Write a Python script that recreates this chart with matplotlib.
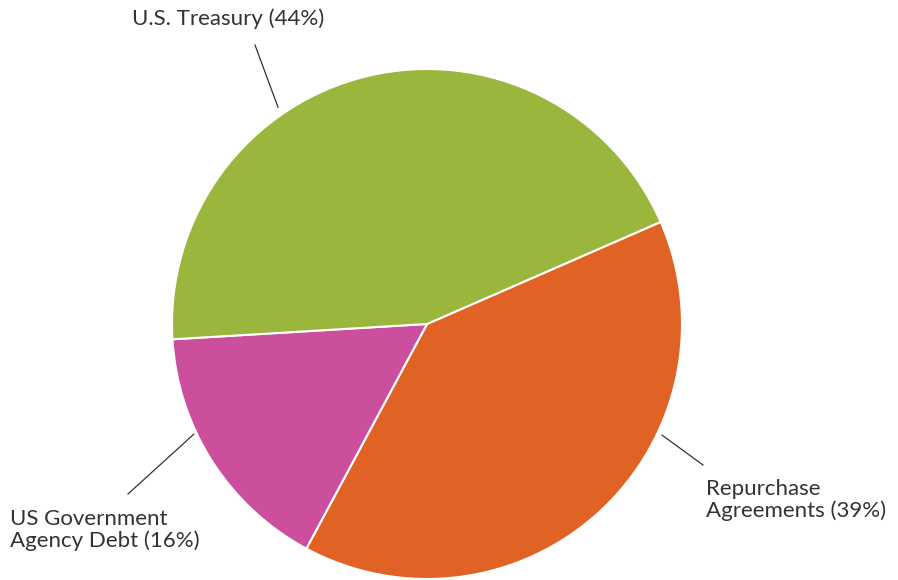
import numpy as np
import matplotlib
matplotlib.use("Agg")
from matplotlib import pyplot as plt

# slice data, clockwise from the green/orange boundary
labels = ["Repurchase\nAgreements (39%)", "US Government\nAgency Debt (16%)", "U.S. Treasury (44%)"]
shares = [39.4, 16.2, 44.4]
colors = ["#E06325", "#CB4F9D", "#9BB63C"]

W, H = 898, 580
CX, CY, R = 427, 256, 255

fig = plt.figure(figsize=(W / 100, H / 100), dpi=100)
ax = fig.add_axes([0, 0, 1, 1])

ax.pie(shares, colors=colors, startangle=23.6, counterclock=False,
       center=(CX, CY), radius=R, frame=True,
       wedgeprops=dict(edgecolor="white", linewidth=1.5))
ax.set_xlim(0, W)
ax.set_ylim(0, H)
ax.set_aspect("equal")
ax.axis("off")

# leader lines: (angle on rim, start radius, text-side end point in px)
leaders = [(-25.3, 260, (703, 465)), (-154.7, 258, (128, 494)), (124.5, 263, (255, 45))]
for ang, r0, (ex, ey) in leaders:
    a = np.deg2rad(ang)
    ax.plot([CX + r0 * np.cos(a), ex], [CY + r0 * np.sin(a), H - ey],
            color="#333333", lw=0.9)

txt = dict(fontsize=16, color="#333333", family="Lato", linespacing=1.08)
ax.text(706, H - 500, labels[0], ha="left", va="center", **txt)
ax.text(10, H - 530, labels[1], ha="left", va="center", **txt)
ax.text(228, H - 19, labels[2], ha="center", va="center", **txt)

fig.savefig("out.png", dpi=100)
